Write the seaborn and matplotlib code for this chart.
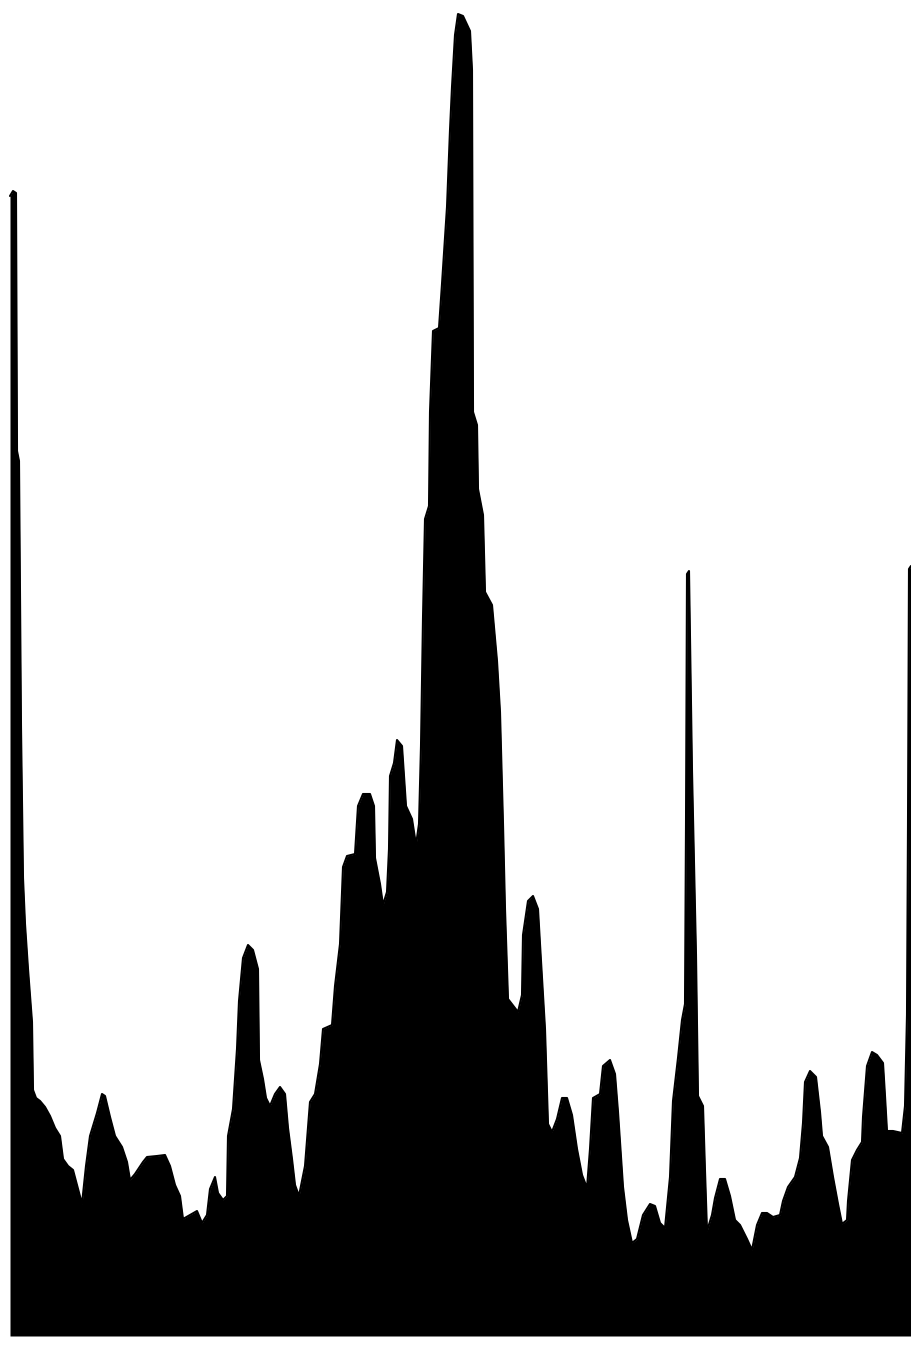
import matplotlib
matplotlib.use("Agg")
import matplotlib.pyplot as plt
import seaborn as sns
import numpy as np

# silhouette profile: channel vs. counts
channel = [0, 3, 6, 7, 9, 11, 13, 15, 18, 22, 23, 26, 30, 35, 40, 45, 50, 53, 58, 63,
           68, 72, 76, 80, 87, 92, 95, 100, 105, 112, 117, 120, 125, 133, 137, 147, 155,
           160, 165, 170, 173, 180, 187, 192, 197, 200, 205, 208, 213, 217, 218, 223,
           227, 229, 233, 238, 243, 248, 249, 253, 256, 260, 265, 270, 275, 278, 282,
           285, 289, 295, 300, 305, 310, 313, 322, 325, 330, 333, 337, 345, 348, 353,
           360, 364, 365, 370, 373, 377, 379, 380, 384, 387, 392, 396, 402, 406, 409,
           411, 413, 415, 419, 420, 423, 429, 432, 437, 440, 442, 445, 448, 453, 460,
           462, 463, 467, 468, 473, 475, 482, 487, 490, 493, 495, 498, 508, 512, 513,
           518, 523, 528, 530, 535, 538, 542, 547, 552, 557, 562, 567, 572, 577, 580,
           583, 590, 593, 600, 605, 608, 613, 617, 622, 627, 633, 640, 645, 650, 655,
           660, 663, 668, 672, 675, 676, 677, 679, 682, 686, 688, 693, 695, 697, 702,
           705, 710, 715, 720, 725, 730, 737, 742, 747, 752, 757, 763, 770, 773, 778,
           785, 790, 793, 795, 800, 806, 810, 812, 818, 823, 828, 832, 837, 838, 842,
           847, 852, 853, 857, 862, 867, 873, 875, 877, 883, 892, 895, 897, 898, 899, 901]

counts = [1140, 1145, 1143, 885, 875, 609, 458, 412, 367, 314, 246, 238, 235, 229, 220,
          208, 200, 177, 170, 166, 147, 132, 170, 200, 223, 242, 240, 219, 200, 189, 174,
          156, 162, 174, 179, 180, 181, 170, 151, 140, 117, 121, 125, 113, 121, 147, 159,
          143, 136, 140, 200, 227, 287, 335, 378, 391, 386, 367, 276, 257, 238, 230, 242,
          249, 242, 208, 177, 151, 140, 170, 234, 242, 272, 307, 311, 350, 392, 469, 480,
          482, 530, 542, 542, 530, 478, 452, 431, 444, 487, 560, 573, 596, 590, 530, 517,
          491, 512, 590, 718, 817, 830, 924, 1005, 1008, 1052, 1129, 1206, 1249, 1301,
          1322, 1320, 1305, 1266, 924, 911, 847, 821, 744, 731, 675, 624, 512, 427, 337,
          324, 341, 401, 435, 440, 427, 392, 307, 212, 204, 217, 238, 238, 221, 187, 161,
          148, 187, 238, 242, 270, 276, 262, 224, 149, 116, 93, 97, 121, 132, 130, 113,
          108, 159, 235, 278, 316, 332, 511, 762, 765, 565, 381, 240, 230, 165, 105, 121,
          138, 157, 157, 140, 116, 111, 97, 86, 111, 123, 123, 119, 121, 135, 149, 159,
          178, 213, 254, 265, 259, 224, 200, 189, 159, 132, 112, 116, 135, 176, 186, 194,
          219, 270, 284, 281, 273, 240, 205, 205, 203, 230, 321, 511, 767, 770]

sns.set_style("white")
fig = plt.figure(figsize=(9.11, 13.45), dpi=100)
ax = fig.add_axes([0, 9 / 1345, 1, 1336 / 1345])

sns.lineplot(x=channel, y=counts, color="black", linewidth=1.5, ax=ax)
ax.fill_between(channel, 0, counts, color="black", linewidth=0)

ax.set_xlim(-10, 901)
ax.set_ylim(0, 1336)
ax.axis("off")

fig.savefig("out.png", dpi=100, facecolor="white")
